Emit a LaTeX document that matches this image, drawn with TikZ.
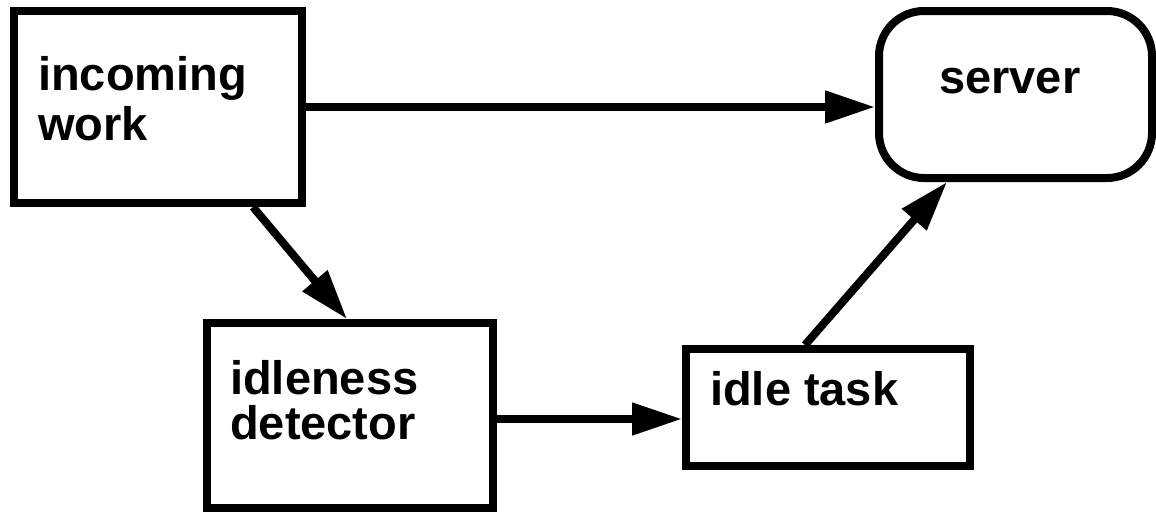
\documentclass[tikz,border=0pt]{standalone}
\usepackage{fontspec}
\setmainfont{Liberation Sans}
\usetikzlibrary{arrows.meta,calc}

\tikzset{
  box/.style={draw, line width=8pt, inner sep=0pt, rectangle},
  label/.style={inner sep=0pt, anchor=base west, align=left,
    font=\bfseries\fontsize{47}{50}\selectfont},
  arr/.style={line width=8pt, -{Triangle[length=50pt,width=31pt]}}
}

\begin{document}
\begin{tikzpicture}[x=1pt,y=1pt]
  \useasboundingbox (0,0) rectangle (1156,-514);

  % boxes
  \node[box, minimum width=288pt, minimum height=192pt] (in) at (158,-107) {};
  \node[box, rounded corners=45pt, minimum width=273pt, minimum height=167pt] (srv) at (1015.5,-94.5) {};
  \node[box, minimum width=286pt, minimum height=185pt] (det) at (350,-415.5) {};
  \node[box, minimum width=284pt, minimum height=117pt] (tsk) at (828,-407.5) {};

  % captions (base anchor sits on the last line's baseline)
  \node[label] (tin) at (38,-140) {incoming\\work};
  \node[label] (tsrv) at (939,-93) {server};
  \node[label, font=\bfseries\fontsize{47}{45}\selectfont] (tdet) at (230,-439) {idleness\\detector};
  \node[label] (ttsk) at (710,-405) {idle task};

  % connectors
  \draw[arr] (in.east) -- (in.east -| srv.west);
  \draw[arr] ($(in.south)+(95,0)$) -- ($(det.north)+(-3,0)$);
  \draw[arr] ($(det.east)+(0,-3.5)$) -- ($(tsk.west)+(0,-11.5)$);
  \draw[arr] ($(tsk.north)+(-23,0)$) -- ($(srv.south)+(-68.5,0)$);
\end{tikzpicture}
\end{document}
